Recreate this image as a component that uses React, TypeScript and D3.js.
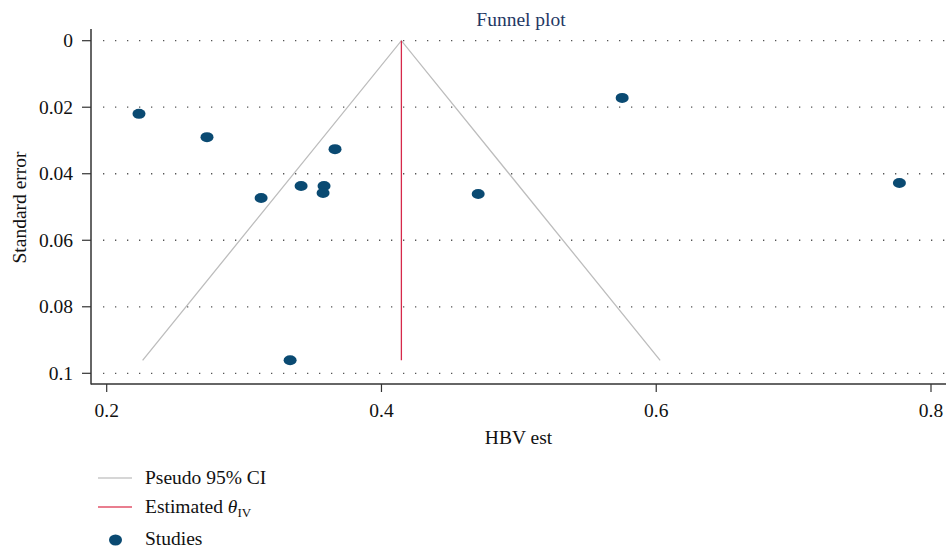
import React from "react";
import * as d3 from "d3";

const studyEst = [0.2235, 0.273, 0.3662, 0.3124, 0.3415, 0.3582, 0.3575, 0.3335, 0.4704, 0.5752, 0.777];
const studySE = [0.022, 0.029, 0.0326, 0.0473, 0.0437, 0.0437, 0.0458, 0.0961, 0.0461, 0.0172, 0.0428];
const pooledEst = 0.4145;
const xTicks = [0.2, 0.4, 0.6, 0.8];
const yTicks = [0, 0.02, 0.04, 0.06, 0.08, 0.1];
const legendLabels = ["Pseudo 95% CI", "Estimated", "Studies"];

const W = 946;
const H = 548;
const FONT = "'Liberation Serif', 'DejaVu Serif', serif";
const FS = 19.5;

export default function App() {
  const x = d3.scaleLinear().domain([0.2, 0.8]).range([106.7, 931]);
  const y = d3.scaleLinear().domain([0, 0.1]).range([40.7, 373.3]);
  const maxSE = d3.max(studySE) as number;
  const funnel: [number, number][] = [
    [pooledEst - 1.96 * maxSE, maxSE],
    [pooledEst, 0],
    [pooledEst + 1.96 * maxSE, maxSE],
  ];
  const line = d3
    .line<[number, number]>()
    .x((d) => x(d[0]))
    .y((d) => y(d[1]));

  const axisX = 91;
  const axisY = 384;

  return (
    <svg width={W} height={H} style={{ position: "absolute", left: 0, top: 0 }} fontFamily={FONT}>
      <rect width={W} height={H} fill="#fff" />
      <text x={521} y={26} textAnchor="middle" fontSize={FS} fill="#1f3864">
        Funnel plot
      </text>
      {/* grid */}
      {yTicks.map((t) => (
        <line
          key={"g" + t}
          x1={103}
          x2={W}
          y1={y(t)}
          y2={y(t)}
          stroke="#555"
          strokeWidth={1.3}
          strokeDasharray="1.3 10.7"
        />
      ))}
      {/* funnel */}
      <path d={line(funnel) || ""} fill="none" stroke="#bdbdbd" strokeWidth={1.3} />
      <line x1={x(pooledEst)} x2={x(pooledEst)} y1={y(0)} y2={y(maxSE)} stroke="#d6294a" strokeWidth={1.3} />
      {/* points */}
      {studyEst.map((e, i) => (
        <ellipse key={i} cx={x(e)} cy={y(studySE[i])} rx={6.5} ry={5} fill="#0a4a72" />
      ))}
      {/* axes */}
      <line x1={axisX} x2={axisX} y1={29} y2={axisY + 0.5} stroke="#333" strokeWidth={1.5} />
      <line x1={axisX} x2={W} y1={axisY} y2={axisY} stroke="#333" strokeWidth={1.5} />
      {yTicks.map((t) => (
        <g key={"y" + t}>
          <line x1={82} x2={axisX} y1={y(t)} y2={y(t)} stroke="#333" strokeWidth={1.2} />
          <text x={73} y={y(t) + 6.5} textAnchor="end" fontSize={FS} fill="#111">
            {d3.format("")(t)}
          </text>
        </g>
      ))}
      {xTicks.map((t) => (
        <g key={"x" + t}>
          <line x1={x(t)} x2={x(t)} y1={axisY} y2={axisY + 8} stroke="#333" strokeWidth={1.2} />
          <text x={x(t)} y={417} textAnchor="middle" fontSize={FS} fill="#111">
            {d3.format("")(t)}
          </text>
        </g>
      ))}
      <text x={518.5} y={443.5} textAnchor="middle" fontSize={FS} fill="#111">
        HBV est
      </text>
      <text
        transform={`translate(26,207.5) rotate(-90)`}
        textAnchor="middle"
        fontSize={FS}
        fill="#111"
      >
        Standard error
      </text>
      {/* legend */}
      <line x1={98} x2={132} y1={478} y2={478} stroke="#c8c8c8" strokeWidth={1.3} />
      <text x={145} y={484} fontSize={FS} fill="#111">
        {legendLabels[0]}
      </text>
      <line x1={98} x2={132} y1={507} y2={507} stroke="#e2536a" strokeWidth={1.3} />
      <text x={145} y={513} fontSize={FS} fill="#111">
        {legendLabels[1]} <tspan fontStyle="italic">θ</tspan>
        <tspan fontSize={13} dy={4}>IV</tspan>
      </text>
      <ellipse cx={115.5} cy={540} rx={6.5} ry={5.5} fill="#0a4a72" />
      <text x={145} y={545} fontSize={FS} fill="#111">
        {legendLabels[2]}
      </text>
    </svg>
  );
}
